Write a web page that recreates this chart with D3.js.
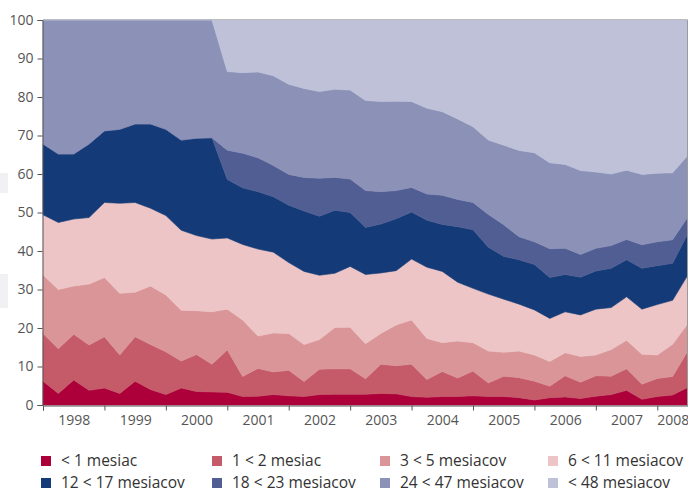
<!DOCTYPE html>
<html>
<head>
<meta charset="utf-8">
<script src="https://cdn.jsdelivr.net/npm/d3@7/dist/d3.min.js"></script>
<style>
  html, body { margin: 0; padding: 0; background: #fff; }
  svg { display: block; }
  text { font-family: "Open Sans", "Noto Sans", sans-serif; }
</style>
</head>
<body>
<svg id="chart" width="688" height="493"></svg>
<script>
// Quarterly observations 1998 Q1 .. 2008 Q3 (43 points), shares in %
const yearLabels = ["1998","1999","2000","2001","2002","2003","2004","2005","2006","2007","2008"];
const yTicks = [0,10,20,30,40,50,60,70,80,90,100];
const seriesNames = ["< 1 mesiac","1 < 2 mesiac","3 < 5 mesiacov","6 < 11 mesiacov","12 < 17 mesiacov","18 < 23 mesiacov","24 < 47 mesiacov","< 48 mesiacov"];
const seriesColors = ["#ad003a","#c55a69","#da9598","#edc5c6","#143a77","#515e93","#8b91b7","#bec1d8"];

const lt1   = [6.2,3.0,6.5,3.8,4.4,3.0,6.2,4.0,2.7,4.4,3.5,3.4,3.3,2.2,2.3,2.7,2.4,2.2,2.7,2.8,2.8,2.8,3.0,2.9,2.2,2.0,2.2,2.2,2.4,2.2,2.2,1.9,1.3,1.9,2.1,1.7,2.3,2.7,3.8,1.5,2.2,2.6,4.6];
const m1_2  = [12.4,11.6,11.9,11.8,13.3,10.0,11.5,11.7,11.1,7.0,9.6,7.2,11.0,5.2,7.2,5.9,6.6,3.9,6.6,6.6,6.6,4.0,7.6,7.3,8.4,4.6,6.5,4.8,6.4,3.5,5.3,5.2,4.9,3.0,5.5,4.2,5.3,4.8,5.6,3.9,4.7,4.8,9.5];
const m3_5  = [15.2,15.4,12.5,15.8,15.4,16.0,11.6,15.2,14.8,13.2,11.4,13.6,10.6,14.7,8.4,10.1,9.6,9.6,7.7,10.7,10.8,9.1,8.0,10.6,11.5,10.7,7.5,9.6,7.4,8.3,6.2,6.9,6.8,6.4,6.0,6.7,5.4,6.9,7.4,7.8,6.1,8.4,7.1];
const m6_11 = [15.6,17.4,17.4,17.3,19.5,23.4,23.3,20.2,20.6,20.8,19.5,18.9,18.5,19.6,22.6,21.0,18.4,19.0,16.7,14.1,15.8,18.0,15.7,14.1,15.8,18.5,18.5,15.3,14.1,14.8,13.8,12.2,11.7,11.2,10.6,10.8,11.9,10.9,11.3,11.7,13.1,11.4,12.6];
const m12_17= [18.4,17.8,16.9,19.1,18.6,19.2,20.4,21.9,22.4,23.4,25.3,26.3,15.2,14.7,14.9,14.4,14.9,15.7,15.3,16.4,14.0,12.2,12.7,13.5,12.2,12.2,12.2,14.4,15.2,12.2,11.1,11.5,11.8,10.6,9.7,9.8,9.9,10.2,9.6,10.6,10.1,9.6,10.8];
const m18_23= [0,0,0,0,0,0,0,0,0,0,0,0,7.6,9.0,8.8,8.1,8.0,8.7,9.9,8.5,8.7,9.6,8.4,7.3,6.4,6.8,7.6,7.1,7.1,8.5,8.2,6.0,5.9,7.5,6.8,5.9,5.9,5.9,5.3,6.1,6.2,6.1,4.3];
const m24_47= [32.2,34.8,34.8,32.2,28.8,28.4,27.0,27.0,28.4,31.2,30.7,30.6,20.4,20.9,22.3,23.3,23.4,23.1,22.5,22.9,23.1,23.4,23.4,23.2,22.3,22.3,21.7,20.9,19.7,19.3,20.7,22.4,23.1,22.3,21.8,21.8,19.8,18.6,18.0,18.3,17.8,17.4,16.0];
const m48   = [0,0,0,0,0,0,0,0,0,0,0,0,13.4,13.7,13.5,14.5,16.7,17.8,18.6,18.0,18.2,20.9,21.2,21.1,21.2,22.9,23.8,25.7,27.7,31.2,32.5,33.9,34.5,37.1,37.5,39.1,39.5,40.0,39.0,40.1,39.8,39.7,35.1];

const seriesData = [lt1, m1_2, m3_5, m6_11, m12_17, m18_23, m24_47, m48];

const rows = lt1.map((_, i) => {
  const r = { i };
  seriesNames.forEach((n, k) => { r[n] = seriesData[k][i]; });
  return r;
});

const svg = d3.select("#chart");
const margin = { left: 43, right: 0, top: 20, bottom: 88 };
const W = 688, H = 493;

const x = d3.scaleLinear().domain([0, lt1.length - 1]).range([margin.left, W - margin.right]);
const y = d3.scaleLinear().domain([0, 100]).range([H - margin.bottom, margin.top]);

const stacked = d3.stack().keys(seriesNames)(rows);

const area = d3.area()
  .x(d => x(d.data.i))
  .y0(d => y(d[0]))
  .y1(d => y(d[1]));

// faint page artefacts at left edge
svg.append("rect").attr("x", 0).attr("y", 173).attr("width", 8).attr("height", 20).attr("fill", "#f1f1f4");
svg.append("rect").attr("x", 0).attr("y", 274).attr("width", 8).attr("height", 34).attr("fill", "#f1f1f4");

svg.append("g").selectAll("path")
  .data(stacked)
  .join("path")
  .attr("d", area)
  .attr("fill", (d, k) => seriesColors[k])
  .attr("stroke", (d, k) => seriesColors[k])
  .attr("stroke-width", 0.6);

// plot frame top/right
svg.append("line").attr("x1", margin.left).attr("x2", W - 0.5).attr("y1", margin.top - 0.5).attr("y2", margin.top - 0.5)
  .attr("stroke", "#bdbdbd").attr("stroke-width", 1);
svg.append("line").attr("x1", W - 0.5).attr("x2", W - 0.5).attr("y1", margin.top).attr("y2", H - margin.bottom)
  .attr("stroke", "#9a9a9a").attr("stroke-width", 1);

// Y axis
const yAxis = svg.append("g")
  .attr("transform", `translate(${margin.left - 0.5},0)`)
  .call(d3.axisLeft(y).tickValues(yTicks).tickSize(5).tickPadding(4).tickFormat(d3.format("d")));
yAxis.select(".domain").attr("stroke", "#555");
yAxis.selectAll(".tick line").attr("stroke", "#555");
yAxis.selectAll("text").attr("fill", "#555").style("font-size", "14px");

// X axis: ticks at year boundaries
const yearStarts = yearLabels.map((_, k) => k * 4);
const xAxis = svg.append("g")
  .attr("transform", `translate(0,${H - margin.bottom + 0.5})`)
  .call(d3.axisBottom(x).tickValues(yearStarts).tickSize(5).tickFormat(""));
xAxis.select(".domain").attr("stroke", "#555");
xAxis.selectAll(".tick line").attr("stroke", "#555");

// X labels centred within each year
const labelPos = yearLabels.map((_, k) => Math.min(k * 4 + 2, (lt1.length - 1 + k * 4) / 2));
const xLab = svg.append("g")
  .attr("transform", `translate(0,${H - margin.bottom})`)
  .call(d3.axisBottom(x).tickValues(labelPos).tickSize(0).tickPadding(10)
        .tickFormat((d, k) => yearLabels[k]));
xLab.select(".domain").remove();
xLab.selectAll("text").attr("fill", "#555").style("font-size", "14px");

// Legend
const legX = [41, 212, 380, 548];
const legY = [461, 483];
const legend = svg.append("g");
seriesNames.forEach((n, k) => {
  const col = k % 4, row = Math.floor(k / 4);
  const g = legend.append("g").attr("transform", `translate(${legX[col]},${legY[row]})`);
  g.append("rect").attr("x", 0).attr("y", -5).attr("width", 10).attr("height", 10).attr("fill", seriesColors[k]);
  g.append("text").attr("x", 20).attr("y", 0).attr("dy", "0.35em")
    .attr("fill", "#333").style("font-size", "15.5px").text(n);
});
</script>
</body>
</html>
